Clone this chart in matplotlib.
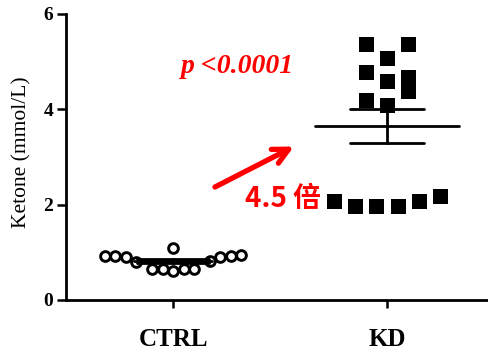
import numpy as np
import matplotlib
matplotlib.use("Agg")
import matplotlib.pyplot as plt

# ---- data ----
groups = ["CTRL", "KD"]
ctrl_values = [0.60, 0.64, 0.65, 0.65, 0.66, 0.80, 0.82,
               0.90, 0.91, 0.92, 0.92, 0.93, 0.94, 1.10]
kd_values = [1.97, 1.97, 1.97, 2.08, 2.08, 2.18,
             4.09, 4.19, 4.38, 4.59, 4.78, 4.67, 5.08, 5.37, 5.37]
y_ticks = [0, 2, 4, 6]
p_text = "p <0.0001"
fold_text = "4.5 倍"
y_label = "Ketone (mmol/L)"


def swarm_offsets(values, step, row_h, coll_h):
    vals = np.asarray(values, dtype=float)
    order = np.argsort(vals, kind="stable")
    rows, cur, start = [], [], None
    for i in order:
        if start is None or vals[i] > start + row_h:
            if cur:
                rows.append(cur)
            cur, start = [i], vals[i]
        else:
            cur.append(i)
    if cur:
        rows.append(cur)
    slots = np.zeros(len(vals))
    placed = []
    for row in rows:
        row = sorted(row)
        n = len(row)
        if n % 2:
            cands = [0] + [s * k for k in range(1, 60) for s in (-1, 1)]
        else:
            cands = [s * (k - 0.5) for k in range(1, 60) for s in (-1, 1)]
        ci = 0
        for i in row:
            while True:
                c = cands[ci]
                ci += 1
                if all(not (abs(c - slots[j]) < 1 and abs(vals[i] - vals[j]) < coll_h)
                       for j in placed):
                    break
            slots[i] = c
            placed.append(i)
    return slots * step


fig = plt.figure(figsize=(4.88, 3.59), dpi=100)
ax = fig.add_axes([66 / 488, 59 / 359, 1 - 66 / 488, (300 - 14) / 359])

serif = "Liberation Serif"
ppx = 214.0  # pixels per x unit (approx)

# CTRL
xc = 0 + swarm_offsets(ctrl_values, 10.5 / ppx, 0.07, 0.4)
ax.plot(xc, ctrl_values, "o", ms=7.0, mfc="white", mec="black", mew=2.1,
        zorder=3, clip_on=False)
# KD
xk = 1 + swarm_offsets(kd_values, 21.3 / ppx, 0.4, 0.25)
ax.plot(xk, kd_values, "s", ms=10.8, mfc="black", mec="black", mew=0,
        zorder=3, clip_on=False)

# mean +/- SEM
mean_half = [0.18, 0.335]
cap_half = [0.17, 0.175]
for gi, vals in enumerate([ctrl_values, kd_values]):
    v = np.asarray(vals)
    m = v.mean()
    sem = v.std(ddof=1) / np.sqrt(len(v))
    ax.plot([gi - mean_half[gi], gi + mean_half[gi]], [m, m], color="black",
            lw=2.0, zorder=4, solid_capstyle="round")
    ax.plot([gi, gi], [m - sem, m + sem], color="black", lw=2.0, zorder=4)
    for yv in (m - sem, m + sem):
        ax.plot([gi - cap_half[gi], gi + cap_half[gi]], [yv, yv], color="black",
                lw=2.0, zorder=4, solid_capstyle="round")

ax.set_xlim(-0.5, (488 - 173) / ppx)
ax.set_ylim(0, 6)
ax.set_yticks(y_ticks)
ax.set_yticklabels([str(t) for t in y_ticks], fontfamily=serif,
                   fontweight="bold", fontsize=14)
ax.set_xticks([0, 1])
ax.set_xticklabels(groups, fontfamily=serif, fontweight="bold", fontsize=18)
ax.tick_params(axis="y", length=6.5, width=1.8, pad=2.5)
ax.tick_params(axis="x", length=6, width=1.8, pad=14)
for s in ("top", "right"):
    ax.spines[s].set_visible(False)
for s in ("left", "bottom"):
    ax.spines[s].set_linewidth(2.0)

fig.text(22 / 488, 1 - 152 / 359, y_label, rotation=90, ha="center",
         va="center", fontfamily=serif, fontsize=15.5)

ax.text(0.30, 4.9, p_text, color="red", fontfamily=serif, fontstyle="italic",
        fontweight="bold", fontsize=20, ha="center", va="center")
ax.annotate("", xy=(0.565, 3.22), xytext=(0.196, 2.37),
            arrowprops=dict(arrowstyle="->", color="red", lw=3.8,
                            mutation_scale=28, shrinkA=0, shrinkB=0))
ax.text(0.515, 2.12, fold_text, color="red",
        fontfamily=["Noto Sans CJK SC", "DejaVu Sans"], fontweight="bold",
        fontsize=20, ha="center", va="center")

fig.savefig("out.png", dpi=100)
